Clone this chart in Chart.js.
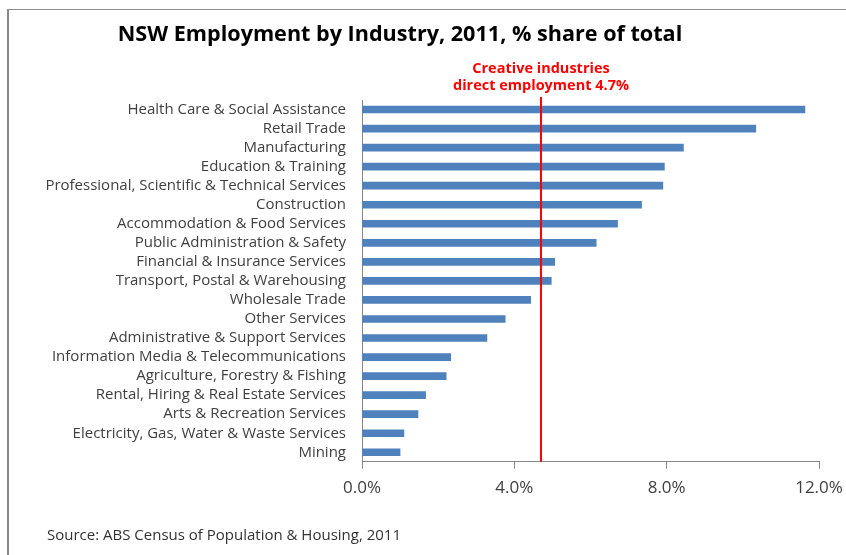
<!DOCTYPE html>
<html>
<head>
<meta charset="utf-8">
<script src="https://cdn.jsdelivr.net/npm/chart.js@4.4.1/dist/chart.umd.min.js"></script>
<style>
  html, body { margin: 0; padding: 0; background: #ffffff; }
  #wrap { width: 846px; height: 555px; }
</style>
</head>
<body>
<div id="wrap"><canvas id="chart" width="846" height="555"></canvas></div>
<script>
// Industries, top to bottom
const industries = [
  'Health Care & Social Assistance',
  'Retail Trade',
  'Manufacturing',
  'Education & Training',
  'Professional, Scientific & Technical Services',
  'Construction',
  'Accommodation & Food Services',
  'Public Administration & Safety',
  'Financial & Insurance Services',
  'Transport, Postal & Warehousing',
  'Wholesale Trade',
  'Other Services',
  'Administrative & Support Services',
  'Information Media & Telecommunications',
  'Agriculture, Forestry & Fishing',
  'Rental, Hiring & Real Estate Services',
  'Arts & Recreation Services',
  'Electricity, Gas, Water & Waste Services',
  'Mining'
];

// Share of total NSW employment, %
const employmentShare = [
  11.63, 10.34, 8.44, 7.94, 7.90, 7.34, 6.71, 6.15, 5.06, 4.97,
  4.43, 3.76, 3.28, 2.33, 2.21, 1.67, 1.47, 1.10, 1.00
];

// Value axis ticks, %
const shareTicks = [0, 4, 8, 12];

// Creative industries reference line
const creativeShare = 4.7;
const creativeLabel = ['Creative industries', 'direct employment 4.7%'];

const titleText = 'NSW Employment by Industry, 2011, % share of total';
const sourceText = 'Source: ABS Census of Population & Housing, 2011';

const FONT = '"Open Sans"';
const AXIS_GREY = '#868686';
const TEXT_GREY = '#404040';

// Outer frame, heading, and the red reference line with its caption
const decorations = {
  id: 'decorations',
  beforeDraw(chart) {
    const ctx = chart.ctx;
    ctx.save();
    ctx.fillStyle = '#ffffff';
    ctx.fillRect(0, 0, chart.width, chart.height);
    ctx.fillStyle = '#8a8a8a';
    ctx.fillRect(7, 9, 2, chart.height - 9);
    ctx.fillRect(7, 9, chart.width - 7, 1);
    ctx.restore();
  },
  afterDraw(chart) {
    const ctx = chart.ctx;
    const area = chart.chartArea;
    const xs = chart.scales.x;
    ctx.save();

    // heading
    ctx.fillStyle = '#000000';
    ctx.font = 'bold 21.6px ' + FONT;
    ctx.textAlign = 'center';
    ctx.textBaseline = 'alphabetic';
    ctx.fillText(titleText, 400, 41);

    // reference line
    const xr = xs.getPixelForValue(creativeShare);
    ctx.strokeStyle = '#ff0000';
    ctx.lineWidth = 2;
    ctx.beginPath();
    ctx.moveTo(xr, area.top - 3);
    ctx.lineTo(xr, area.bottom);
    ctx.stroke();

    // caption
    ctx.fillStyle = '#ff0000';
    ctx.font = 'bold 14.5px ' + FONT;
    ctx.fillText(creativeLabel[0], xr, 73);
    ctx.fillText(creativeLabel[1], xr, 90);
    ctx.restore();
  }
};

new Chart(document.getElementById('chart'), {
  type: 'bar',
  data: {
    labels: industries,
    datasets: [{
      data: employmentShare,
      backgroundColor: '#4f81bd',
      borderWidth: 0,
      barThickness: 7
    }]
  },
  options: {
    indexAxis: 'y',
    responsive: false,
    animation: false,
    devicePixelRatio: 1,
    layout: { padding: { top: 100, left: 47, right: 27, bottom: 0 } },
    plugins: {
      legend: { display: false },
      tooltip: { enabled: false },
      title: { display: false },
      subtitle: {
        display: true,
        position: 'bottom',
        align: 'start',
        text: sourceText,
        color: '#333333',
        font: { family: FONT, size: 15 },
        padding: { top: 19, bottom: 10 }
      }
    },
    scales: {
      x: {
        position: 'bottom',
        min: 0,
        max: 12,
        afterBuildTicks(scale) {
          scale.ticks = shareTicks.map(v => ({ value: v }));
        },
        afterFit(scale) {
          scale.height = 46.2;
          scale.paddingLeft = 0;
          scale.paddingRight = 0;
        },
        ticks: {
          callback: v => Number(v).toFixed(1) + '%',
          color: TEXT_GREY,
          font: { family: FONT, size: 17 },
          padding: 9,
          maxRotation: 0
        },
        grid: {
          drawOnChartArea: false,
          drawTicks: true,
          tickLength: 7,
          color: AXIS_GREY
        },
        border: { color: AXIS_GREY, width: 1 }
      },
      y: {
        afterFit(scale) { scale.width = 315; },
        ticks: {
          color: TEXT_GREY,
          font: { family: FONT, size: 15 },
          padding: 16,
          autoSkip: false
        },
        grid: { display: false, drawTicks: false },
        border: { color: AXIS_GREY, width: 1 }
      }
    }
  },
  plugins: [decorations]
});
</script>
</body>
</html>
